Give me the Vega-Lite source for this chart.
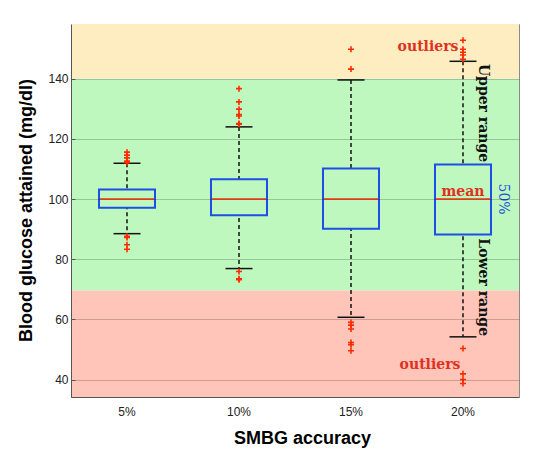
{
  "$schema": "https://vega.github.io/schema/vega-lite/v6.json",
  "width": 448,
  "height": 373,
  "autosize": "none",
  "padding": {"left": 71, "top": 24, "right": 24, "bottom": 65},
  "background": "white",
  "config": {
    "view": {"stroke": "#8a8a8a", "strokeWidth": 1},
    "font": "Liberation Sans"
  },
  "datasets": {
    "bands": [
      {"lo": 140, "hi": 158.2, "zone": "high"},
      {"lo": 69.6, "hi": 140, "zone": "target"},
      {"lo": 34.2, "hi": 69.6, "zone": "low"}
    ],
    "boxes": [
      {"acc": "5%", "lower": 88.5, "q1": 97.1, "median": 100, "q3": 103.2, "upper": 111.9},
      {"acc": "10%", "lower": 76.9, "q1": 94.6, "median": 100, "q3": 106.6, "upper": 124},
      {"acc": "15%", "lower": 60.7, "q1": 90.1, "median": 100, "q3": 110.2, "upper": 139.6},
      {"acc": "20%", "lower": 54.2, "q1": 88.2, "median": 100, "q3": 111.5, "upper": 145.8}
    ],
    "outliers": [
      {"acc": "5%", "v": 115.6}, {"acc": "5%", "v": 114.6}, {"acc": "5%", "v": 113.7}, {"acc": "5%", "v": 112.6}, {"acc": "5%", "v": 112.1},
      {"acc": "5%", "v": 87.6}, {"acc": "5%", "v": 87.2}, {"acc": "5%", "v": 84.8}, {"acc": "5%", "v": 83.3},
      {"acc": "10%", "v": 136.7}, {"acc": "10%", "v": 132.3}, {"acc": "10%", "v": 129.9}, {"acc": "10%", "v": 128.1}, {"acc": "10%", "v": 127.6}, {"acc": "10%", "v": 125.1}, {"acc": "10%", "v": 124.9},
      {"acc": "10%", "v": 75.9}, {"acc": "10%", "v": 73.5}, {"acc": "10%", "v": 73.2},
      {"acc": "15%", "v": 149.8}, {"acc": "15%", "v": 143.2},
      {"acc": "15%", "v": 59.0}, {"acc": "15%", "v": 58.1}, {"acc": "15%", "v": 56.8}, {"acc": "15%", "v": 52.3}, {"acc": "15%", "v": 51.6}, {"acc": "15%", "v": 49.6},
      {"acc": "20%", "v": 152.8}, {"acc": "20%", "v": 149.8}, {"acc": "20%", "v": 148.8}, {"acc": "20%", "v": 147.9}, {"acc": "20%", "v": 146.5},
      {"acc": "20%", "v": 50.3}, {"acc": "20%", "v": 41.9}, {"acc": "20%", "v": 40.0}, {"acc": "20%", "v": 38.7}
    ],
    "notes": [
      {"acc": "20%", "v": 150.6, "label": "outliers", "kind": "outH"},
      {"acc": "20%", "v": 45.0, "label": "outliers", "kind": "outL"},
      {"acc": "20%", "v": 102.4, "label": "mean", "kind": "mean"}
    ],
    "vnotes": [
      {"acc": "20%", "v": 128.6, "label": "Upper range"},
      {"acc": "20%", "v": 70.7, "label": "Lower range"}
    ],
    "pct": [
      {"acc": "20%", "v": 100, "label": "50%"}
    ]
  },
  "layer": [
    {
      "data": {"name": "bands"},
      "mark": {"type": "rect", "strokeWidth": 0},
      "encoding": {
        "y": {"field": "lo", "type": "quantitative", "scale": {"domain": [34.2, 158.2], "nice": false, "zero": false},
              "axis": {"title": "Blood glucose attained (mg/dl)", "values": [40, 60, 80, 100, 120, 140], "grid": true, "gridColor": "#000000", "gridOpacity": 0.2, "gridWidth": 1,
                       "zindex": 1, "domainColor": "#555555", "tickColor": "#555555", "tickSize": -4, "labelFontSize": 12, "labelColor": "#222222", "labelPadding": 7, "labelFont": "Liberation Sans",
                       "titleFont": "Liberation Sans", "titleFontSize": 18, "titleFontWeight": "bold", "titleColor": "#000000", "titlePadding": 12, "titleY": 186}},
        "y2": {"field": "hi"},
        "color": {"field": "zone", "type": "nominal", "legend": null,
                  "scale": {"domain": ["high", "target", "low"], "range": ["#fdedc1", "#bef8be", "#fec5b8"]}}
      }
    },
    {
      "data": {"name": "boxes"},
      "mark": {"type": "rule", "color": "#111111", "strokeWidth": 1.5, "strokeDash": [4, 3]},
      "encoding": {
        "x": {"field": "acc", "type": "nominal", "sort": ["5%", "10%", "15%", "20%"],
              "scale": {"type": "band", "domain": ["5%", "10%", "15%", "20%"], "paddingInner": 0, "paddingOuter": 0},
              "axis": {"title": "SMBG accuracy", "labelAngle": 0, "ticks": false, "labelFontSize": 12, "labelColor": "#222222", "labelPadding": 9, "labelFont": "Liberation Sans",
                       "domainColor": "#555555", "titleFont": "Liberation Sans", "titleFontSize": 18, "titleFontWeight": "bold", "titleColor": "#000000", "titlePadding": 12, "titleX": 231}},
        "y": {"field": "upper", "type": "quantitative"},
        "y2": {"field": "lower"}
      }
    },
    {
      "data": {"name": "boxes"},
      "mark": {"type": "rect", "fill": "#bef8be", "stroke": "#1d4fe6", "strokeWidth": 2, "width": 56},
      "encoding": {
        "x": {"field": "acc", "type": "nominal"},
        "y": {"field": "q1", "type": "quantitative"},
        "y2": {"field": "q3"}
      }
    },
    {
      "data": {"name": "boxes"},
      "mark": {"type": "tick", "color": "#ff2a00", "thickness": 1.5, "size": 54, "opacity": 1},
      "encoding": {
        "x": {"field": "acc", "type": "nominal"},
        "y": {"field": "median", "type": "quantitative"}
      }
    },
    {
      "data": {"name": "boxes"},
      "mark": {"type": "tick", "color": "#111111", "thickness": 1.5, "size": 27, "opacity": 1},
      "encoding": {
        "x": {"field": "acc", "type": "nominal"},
        "y": {"field": "upper", "type": "quantitative"}
      }
    },
    {
      "data": {"name": "boxes"},
      "mark": {"type": "tick", "color": "#111111", "thickness": 1.5, "size": 27, "opacity": 1},
      "encoding": {
        "x": {"field": "acc", "type": "nominal"},
        "y": {"field": "lower", "type": "quantitative"}
      }
    },
    {
      "data": {"name": "outliers"},
      "mark": {"type": "point", "shape": "M-1,0L1,0M0,-1L0,1", "filled": false, "stroke": "#ff2a00", "strokeWidth": 1.6, "size": 36, "opacity": 1},
      "encoding": {
        "x": {"field": "acc", "type": "nominal"},
        "y": {"field": "v", "type": "quantitative"}
      }
    },
    {
      "data": {"name": "notes"},
      "transform": [{"filter": "datum.kind == 'outH'"}],
      "mark": {"type": "text", "font": "DejaVu Serif", "fontWeight": "bold", "fontSize": 14, "color": "#e0301e", "align": "center", "baseline": "middle", "dx": -35},
      "encoding": {
        "x": {"field": "acc", "type": "nominal"},
        "y": {"field": "v", "type": "quantitative"},
        "text": {"field": "label"}
      }
    },
    {
      "data": {"name": "notes"},
      "transform": [{"filter": "datum.kind == 'outL'"}],
      "mark": {"type": "text", "font": "DejaVu Serif", "fontWeight": "bold", "fontSize": 14, "color": "#e0301e", "align": "center", "baseline": "middle", "dx": -33},
      "encoding": {
        "x": {"field": "acc", "type": "nominal"},
        "y": {"field": "v", "type": "quantitative"},
        "text": {"field": "label"}
      }
    },
    {
      "data": {"name": "notes"},
      "transform": [{"filter": "datum.kind == 'mean'"}],
      "mark": {"type": "text", "font": "DejaVu Serif", "fontWeight": "bold", "fontSize": 14, "color": "#e0301e", "align": "center", "baseline": "middle"},
      "encoding": {
        "x": {"field": "acc", "type": "nominal"},
        "y": {"field": "v", "type": "quantitative"},
        "text": {"field": "label"}
      }
    },
    {
      "data": {"name": "vnotes"},
      "mark": {"type": "text", "font": "DejaVu Serif", "fontWeight": "bold", "fontSize": 14, "color": "#111111", "align": "center", "baseline": "middle", "angle": 90, "dy": -20},
      "encoding": {
        "x": {"field": "acc", "type": "nominal"},
        "y": {"field": "v", "type": "quantitative"},
        "text": {"field": "label"}
      }
    },
    {
      "data": {"name": "pct"},
      "mark": {"type": "text", "font": "DejaVu Serif", "fontSize": 14, "color": "#2450dd", "align": "center", "baseline": "middle", "angle": 90, "dy": -40},
      "encoding": {
        "x": {"field": "acc", "type": "nominal"},
        "y": {"field": "v", "type": "quantitative"},
        "text": {"field": "label"}
      }
    }
  ]
}
